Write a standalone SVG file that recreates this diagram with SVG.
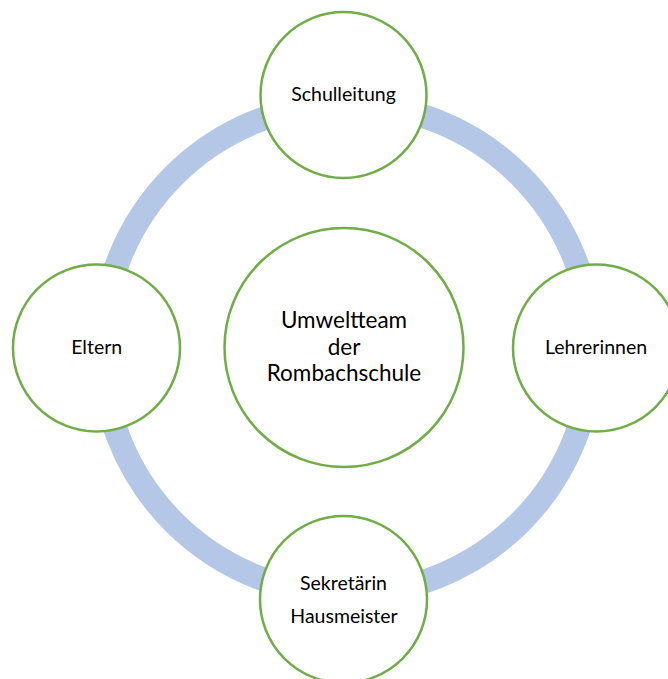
<svg xmlns="http://www.w3.org/2000/svg" width="668" height="679" viewBox="0 0 668 679">
  <style>
    .node circle { fill: #ffffff; stroke: #70ad47; stroke-width: 2.5; }
    .label { font-family: Lato, "Open Sans", "Liberation Sans", sans-serif; font-size: 19.5px; fill: #000000; text-anchor: middle; }
    .big { font-size: 22.5px; }
  </style>
  <rect width="668" height="679" fill="#ffffff"/>

  <!-- cycle ring linking the outer groups -->
  <g id="connectors">
    <circle cx="347" cy="349" r="245" fill="none" stroke="#b4c7e7" stroke-width="24"/>
  </g>

  <g id="center" class="node">
    <circle cx="344" cy="347.5" r="119.5"/>
    <text class="label big" x="344" y="328">Umweltteam</text>
    <text class="label big" x="344" y="355">der</text>
    <text class="label big" x="344" y="381">Rombachschule</text>
  </g>

  <g id="schulleitung" class="node">
    <circle cx="343.5" cy="95" r="83"/>
    <text class="label" x="343.5" y="101">Schulleitung</text>
  </g>

  <g id="lehrerinnen" class="node">
    <circle cx="596.5" cy="348" r="83.5"/>
    <text class="label" x="596" y="354">Lehrerinnen</text>
  </g>

  <g id="sekretariat" class="node">
    <circle cx="343.5" cy="599.5" r="83.5"/>
    <text class="label" x="343.5" y="590">Sekretärin</text>
    <text class="label" x="344" y="622.5">Hausmeister</text>
  </g>

  <g id="eltern" class="node">
    <circle cx="96.5" cy="348" r="83.5"/>
    <text class="label" x="96.7" y="354">Eltern</text>
  </g>
</svg>
